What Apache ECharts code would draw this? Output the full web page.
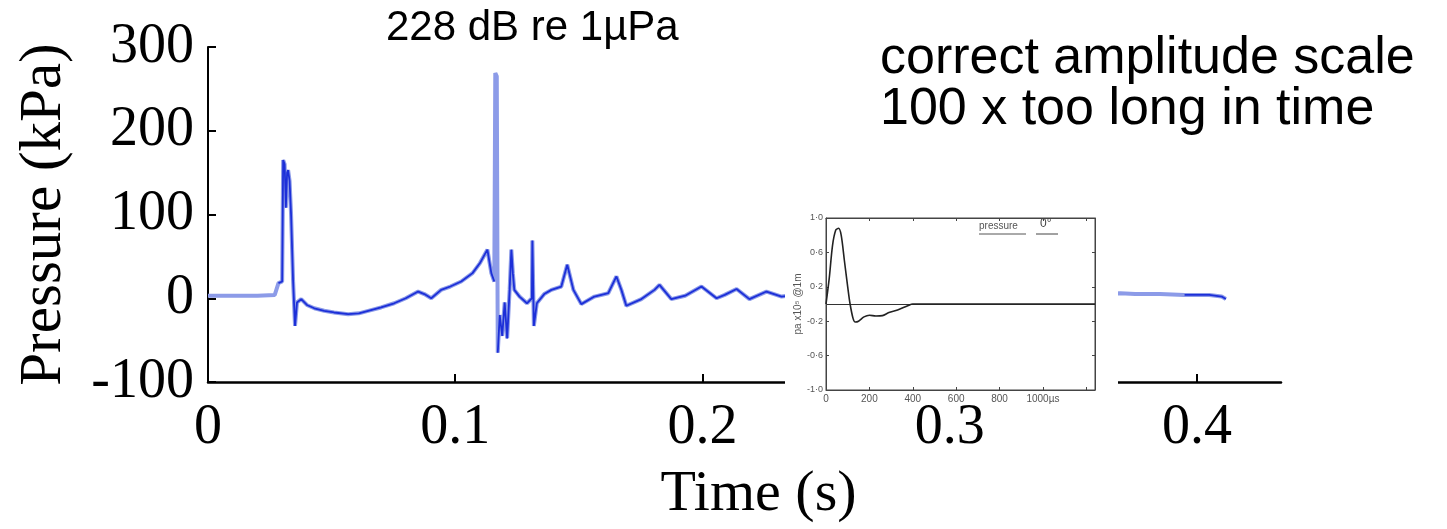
<!DOCTYPE html>
<html>
<head>
<meta charset="utf-8">
<script src="https://cdn.jsdelivr.net/npm/echarts@6/dist/echarts.min.js"></script>
<style>html,body{margin:0;padding:0;background:#fff;}#c{width:1447px;height:529px;}</style>
</head>
<body>
<div id="c"></div>
<script>
// ---- main trace (time in s, pressure in kPa) ----
const timeS = [0,0.010,0.020,0.027,0.0285,0.0300,0.0304,0.0310,0.0315,0.0320,0.0324,0.0330,0.0336,0.0344,0.0352,0.0360,0.0377,0.040,0.043,0.047,0.051,0.0567,0.0610,0.0648,0.070,0.0753,0.080,0.085,0.0875,0.0903,0.0943,0.098,0.1024,0.107,0.110,0.1130,0.1146,0.1158,0.1162,0.1168,0.1172,0.1180,0.1190,0.1200,0.1210,0.1220,0.1227,0.1233,0.1239,0.1260,0.1290,0.1310,0.1312,0.1318,0.1330,0.1360,0.1389,0.1429,0.1453,0.1478,0.1510,0.1563,0.1619,0.1652,0.1672,0.1692,0.1753,0.1806,0.1826,0.1874,0.1930,0.1996,0.2057,0.2090,0.2138,0.2190,0.2259,0.2320,0.240,0.250,0.260,0.270,0.280,0.300,0.320,0.340,0.360,0.369,0.375,0.385,0.395,0.405,0.410,0.4117];
const pressureKPa = [3,3,3,4,18,20,165,160,108,150,153,140,100,22,-33,-5,-1,-8,-12,-15,-17,-19,-18,-15,-11,-6,0,8,5,0,10,14,20,30,42,58,30,20,269,265,-65,-20,-45,-5,-48,10,58,30,10,2,-6,0,69,-33,-6,5,10,14,40,10,-7,2,6,26,10,-9,-1,10,16,-1,3,14,0,4,11,-1,8,2,5,3,6,3,5,3,5,3,5,6,5,5,4,4,2,-1];
// time ranges drawn only in the light tone
const lightOnlyRanges = [[0,0.0278],[0.1159,0.1170],[0.3685,0.385]];

// ---- inset trace (time in µs, pressure ×10^5 Pa) ----
const insetTimeUs = [0,15,30,45,58,70,85,100,111,125,135,150,175,200,230,260,290,330,377,400,1240];
const insetPressure = [0,0.3,0.68,0.86,0.88,0.8,0.5,0.2,0,-0.17,-0.21,-0.2,-0.15,-0.13,-0.14,-0.135,-0.1,-0.07,-0.02,0,0];

// ---- tick settings ----
const mainXTicks = {min:0, max:0.434, interval:0.1};
const mainYTicks = {min:-100, max:300, interval:100};
const insetXTicks = {min:0, max:1240, interval:200};
const insetYTicks = {min:-1, max:1, interval:0.4};

const lightData = timeS.map((t,i)=>[t, pressureKPa[i]]);
const darkData = timeS.map((t,i)=>{
  const light = lightOnlyRanges.some(r=>t>=r[0] && t<=r[1]);
  return [t, light ? null : pressureKPa[i]];
});
const insetData = insetTimeUs.map((t,i)=>[t, insetPressure[i]]);

const serif = 'Liberation Serif';
const sans = 'Liberation Sans';

const chart = echarts.init(document.getElementById('c'), null, {renderer:'canvas'});
chart.setOption({
  animation:false,
  backgroundColor:'#fff',
  grid:[
    {left:208, right:166, top:47, bottom:142, containLabel:false},
    {left:826, right:352, top:218, bottom:139, show:true, backgroundColor:'#fff', borderColor:'#444', borderWidth:1, z:4}
  ],
  xAxis:[
    {gridIndex:0, type:'value', min:mainXTicks.min, max:mainXTicks.max, interval:mainXTicks.interval,
     axisLine:{show:true, onZero:false, lineStyle:{color:'#000', width:2.5}},
     axisTick:{show:true, inside:true, length:8, lineStyle:{color:'#000', width:2}},
     splitLine:{show:false},
     axisLabel:{fontFamily:serif, fontSize:56, color:'#000', margin:18, showMaxLabel:false,
       formatter:v=> v===0 ? '0' : (Math.abs(v*10-Math.round(v*10))<1e-6 ? v.toFixed(1) : '')},
     name:'Time (s)', nameLocation:'middle', nameGap:84,
     nameTextStyle:{fontFamily:serif, fontSize:58, color:'#000', padding:[0,0,0,28]}},
    {gridIndex:1, type:'value', min:insetXTicks.min, max:insetXTicks.max, interval:insetXTicks.interval, z:5,
     axisLine:{show:true, onZero:false, lineStyle:{color:'#444', width:1}},
     axisTick:{show:true, inside:true, length:3, lineStyle:{color:'#444'}},
     splitLine:{show:false},
     axisLabel:{fontFamily:sans, fontSize:10, color:'#555', margin:4, showMaxLabel:false,
       formatter:v=> v===1000 ? '1000µs' : (v>1000 ? '' : String(v))}},
    {gridIndex:1, type:'value', position:'top', min:insetXTicks.min, max:insetXTicks.max, interval:insetXTicks.interval, z:5,
     axisLine:{show:true, onZero:false, lineStyle:{color:'#444', width:1}},
     axisTick:{show:true, inside:true, length:3, lineStyle:{color:'#444'}},
     splitLine:{show:false}, axisLabel:{show:false}}
  ],
  yAxis:[
    {gridIndex:0, type:'value', min:mainYTicks.min, max:mainYTicks.max, interval:mainYTicks.interval,
     axisLine:{show:true, onZero:false, lineStyle:{color:'#000', width:2}},
     axisTick:{show:true, inside:true, length:8, lineStyle:{color:'#000', width:2}},
     splitLine:{show:false},
     axisLabel:{fontFamily:serif, fontSize:56, color:'#000', margin:14},
     name:'Pressure (kPa)', nameLocation:'middle', nameGap:134, nameRotate:90,
     nameTextStyle:{fontFamily:serif, fontSize:59, color:'#000'}},
    {gridIndex:1, type:'value', min:insetYTicks.min, max:insetYTicks.max, interval:insetYTicks.interval, z:5,
     axisLine:{show:true, onZero:false, lineStyle:{color:'#444', width:1}},
     axisTick:{show:true, inside:true, length:3, lineStyle:{color:'#444'}},
     splitLine:{show:false},
     axisLabel:{fontFamily:sans, fontSize:9, color:'#555', margin:3,
       formatter:v=>(v<-1e-9?'-':'')+Math.abs(v).toFixed(1).replace('.','·')},
     name:'pa x10⁵ @1m', nameLocation:'middle', nameGap:22, nameRotate:90,
     nameTextStyle:{fontFamily:sans, fontSize:10, color:'#555'}},
    {gridIndex:1, type:'value', position:'right', min:insetYTicks.min, max:insetYTicks.max, interval:insetYTicks.interval, z:5,
     axisLine:{show:true, onZero:false, lineStyle:{color:'#444', width:1}},
     axisTick:{show:true, inside:true, length:3, lineStyle:{color:'#444'}},
     splitLine:{show:false}, axisLabel:{show:false}}
  ],
  series:[
    {type:'line', xAxisIndex:0, yAxisIndex:0, data:lightData, symbol:'none', z:2,
     lineStyle:{color:'#8c9be8', width:4}},
    {type:'line', xAxisIndex:0, yAxisIndex:0, data:darkData, symbol:'none', z:2, connectNulls:false,
     lineStyle:{color:'#1c2fd8', width:1.8}},
    {type:'line', xAxisIndex:1, yAxisIndex:1, data:insetData, symbol:'none', z:6, smooth:0.3,
     lineStyle:{color:'#222', width:1.6},
     markLine:{silent:true, symbol:'none', label:{show:false}, lineStyle:{color:'#333', width:1, type:'solid'},
       data:[{yAxis:0}]}}
  ],
  graphic:[
    {type:'rect', z:3, shape:{x:785, y:205, width:333, height:197}, style:{fill:'#fff'}},
    {type:'text', z:10, left:979, top:221, style:{text:'pressure', fontFamily:sans, fontSize:10, fill:'#555'}},
    {type:'line', z:10, shape:{x1:979, y1:234, x2:1026, y2:234}, style:{stroke:'#555', lineWidth:1}},
    {type:'text', z:10, left:1040, top:218, style:{text:'0°', fontFamily:sans, fontSize:12, fill:'#444'}},
    {type:'line', z:10, shape:{x1:1036, y1:234, x2:1058, y2:234}, style:{stroke:'#444', lineWidth:1}},
    {type:'text', z:10, left:386, top:7, style:{text:'228 dB re 1µPa', fontFamily:sans, fontSize:42, fill:'#000'}},
    {type:'text', z:10, left:880, top:33, style:{text:'correct amplitude scale', fontFamily:sans, fontSize:52, fill:'#000'}},
    {type:'text', z:10, left:880, top:84, style:{text:'100 x too long in time', fontFamily:sans, fontSize:52, fill:'#000'}}
  ]
});
</script>
</body>
</html>
